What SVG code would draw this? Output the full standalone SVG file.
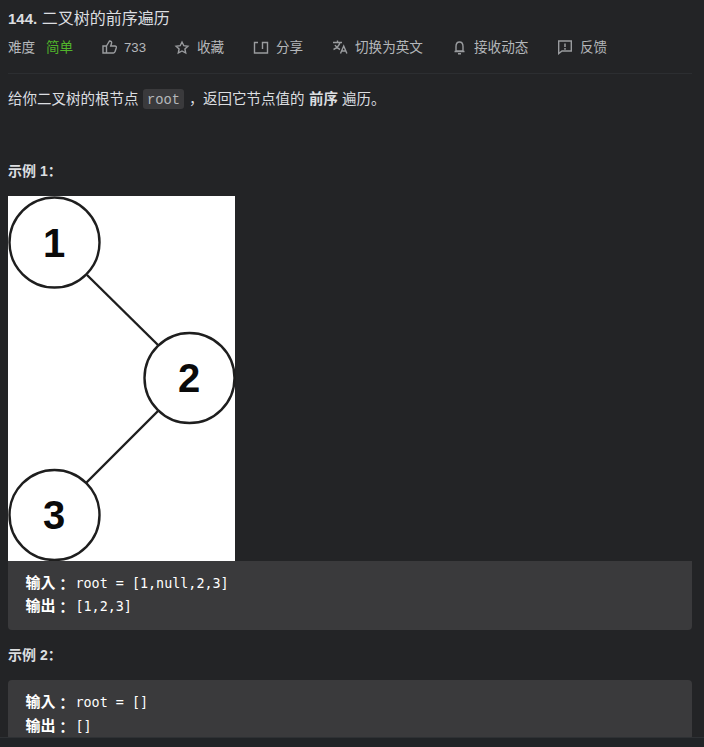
<svg xmlns="http://www.w3.org/2000/svg" width="704" height="747" viewBox="0 0 704 747">
<style>
text{font-family:"Liberation Sans","Noto Sans CJK SC",sans-serif;font-size:13.6px;fill:#b4b7ba}
.t{fill:#dcdee0}
.body{font-size:14.5px}
.b{font-weight:bold}
.m{font-family:"DejaVu Sans Mono","Liberation Mono",monospace;font-size:13.4px;fill:#fff}
.mb{font-family:"Noto Sans CJK TC",sans-serif;font-size:15px;font-weight:bold;fill:#fff}
.i{fill:none;stroke:#9a9c9f;stroke-width:1.4}
.n{fill:#fff;stroke:#1e1e1e;stroke-width:2.4}
.d{font-size:40px;font-weight:bold;fill:#0a0a0a;text-anchor:middle}
.pre{fill:#3a3a3c}
</style>
<rect width="704" height="747" fill="#232426"/>
<g id="header">
<text class="t" x="8" y="24" style="font-size:16px"><tspan class="b" style="font-size:15px">144.</tspan> 二叉树的前序遍历</text>
<text x="8" y="52">难度</text>
<text x="46" y="52" style="fill:#51b52b">简单</text>
<path class="i" d="M103 46h3.500v7h-3.500zM106.500 46l3-5c1.800 0 2.500 1 2 2.500l-.8 2.500h4.300c1 0 1.500.8 1.300 1.700l-1.300 4c-.2.800-.7 1.300-1.500 1.300h-7"/>
<text x="124" y="52" style="font-size:13.200px">733</text>
<path class="i" d="M182 42l1.800 3.700 4.100.5-3 2.800.8 4-3.700-2-3.700 2 .8-4-3-2.800 4.100-.5z"/>
<text x="197" y="52">收藏</text>
<path class="i" d="M258 42.500h-3.500v10.500h13v-10.500h-5v6.500" stroke-width="1.600"/>
<text x="276" y="52">分享</text>
<path class="i" d="M333 42.500h9M337.500 40.500v2M340 42.500c-1 3.500-3.500 5.500-6.500 7M335 45c1 2 3 3.500 5 4.500M340.500 53.500l3.200-7.500 3.200 7.500M341.700 51h4"/>
<text x="355" y="52">切换为英文</text>
<path class="i" d="M459.500 42c-2.600 0-3.500 2-3.500 4.500v4.500h7v-4.500c0-2.500-.9-4.500-3.500-4.500zM454.500 51.500h10" stroke-width="1.700"/>
<path d="M458 53h3v1.500h-3z" fill="#9a9c9f"/>
<text x="474" y="52">接收动态</text>
<path class="i" d="M558.700 41h12.600v10h-9.300l-3.300 2.500z"/>
<path d="M565 43.500v3.500M565 48v1.800" stroke="#9a9c9f" stroke-width="1.500"/>
<text x="580" y="52">反馈</text>
<rect x="8" y="73" width="684" height="1" fill="#2c2e31"/>
</g>
<g id="intro">
<text class="t body" x="8" y="104">给你二叉树的根节点</text>
<rect x="143" y="89" width="41" height="20" rx="3" fill="#3a3a3c"/>
<text x="147" y="104" style="font-family:'Liberation Mono',monospace;font-size:13.800px;fill:#b4b7ba">root</text>
<text class="t body" x="189" y="104" style="font-family:'Noto Sans CJK SC',sans-serif">，</text>
<text class="t body" x="203" y="104">返回它节点值的</text>
<text class="t body b" x="309" y="104">前序</text>
<text class="t body" x="342" y="104">遍历。</text>
</g>
<text class="t b" x="8" y="176" style="font-size:14px">示例 1：</text>
<rect x="8" y="196" width="227" height="365" fill="#fff"/>
<g id="connectors" stroke="#1e1e1e" stroke-width="2.400" fill="none">
<line x1="87" y1="275" x2="158" y2="345"/>
<line x1="158" y1="411" x2="86" y2="483"/>
</g>
<g id="node-1"><circle class="n" cx="54.500" cy="242.500" r="45"/><text class="d" x="54" y="257">1</text></g>
<g id="node-2"><circle class="n" cx="189.500" cy="378" r="45"/><text class="d" x="189" y="392">2</text></g>
<g id="node-3"><circle class="n" cx="54.500" cy="515" r="45"/><text class="d" x="54" y="529">3</text></g>
<g id="example-1">
<path class="pre" d="M8 561h684v65a4 4 0 0 1-4 4h-676a4 4 0 0 1-4-4z"/>
<text class="mb" x="25.500" y="588">输入<tspan dy="1.500">：</tspan></text><text class="m" x="75.500" y="588">root = [1,null,2,3]</text>
<text class="mb" x="25.500" y="611">输出<tspan dy="1.500">：</tspan></text><text class="m" x="75.500" y="611">[1,2,3]</text>
</g>
<text class="t b" x="8" y="660" style="font-size:14px">示例 2：</text>
<g id="example-2">
<rect class="pre" x="8" y="680" width="684" height="60" rx="4"/>
<text class="mb" x="25.500" y="707">输入<tspan dy="1.500">：</tspan></text><text class="m" x="75.500" y="707">root = []</text>
<text class="mb" x="25.500" y="731">输出<tspan dy="1.500">：</tspan></text><text class="m" x="75.500" y="731">[]</text>
</g>
<rect x="0" y="737" width="704" height="10" fill="#212427"/>
<rect x="0" y="737" width="704" height="1" fill="#2e3134"/>
</svg>
